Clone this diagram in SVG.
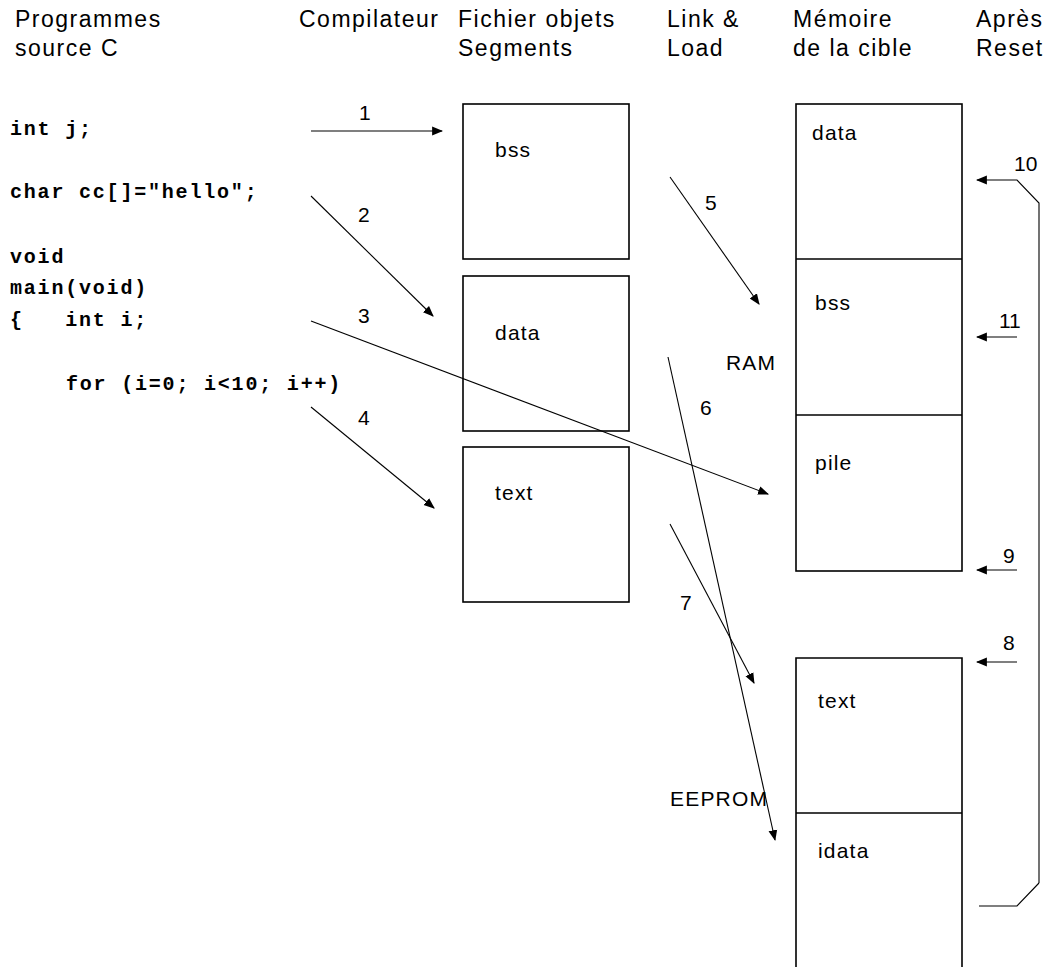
<svg xmlns="http://www.w3.org/2000/svg" width="1047" height="967" viewBox="0 0 1047 967">
<style>
.h{font-family:"Liberation Sans",Arial,sans-serif;font-size:23px;letter-spacing:1.5px;fill:#000}
.lb{font-family:"Liberation Sans",Arial,sans-serif;font-size:21px;letter-spacing:1.2px;fill:#000}
.n{font-family:"Liberation Sans",Arial,sans-serif;font-size:21px;fill:#000}
.c{font-family:"Liberation Mono","Courier New",monospace;font-size:20px;font-weight:bold;letter-spacing:1.8px;fill:#000;white-space:pre}
.box{fill:none;stroke:#000;stroke-width:1.6}
.ln{fill:none;stroke:#000;stroke-width:1.1}
.ar{fill:none;stroke:#000;stroke-width:1.1;marker-end:url(#ah)}
</style>
<defs>
<marker id="ah" viewBox="0 0 10 10" refX="9" refY="5" markerWidth="11" markerHeight="11" markerUnits="userSpaceOnUse" orient="auto">
<path d="M0,1 L10,5 L0,9 Z" fill="#000"/>
</marker>
</defs>
<rect width="1047" height="967" fill="#fff"/>
<g id="headers">
<text class="h" x="15" y="27">Programmes</text>
<text class="h" x="15" y="56">source C</text>
<text class="h" x="299" y="27">Compilateur</text>
<text class="h" x="458" y="27">Fichier objets</text>
<text class="h" x="458" y="56">Segments</text>
<text class="h" x="667" y="27">Link &amp;</text>
<text class="h" x="667" y="56">Load</text>
<text class="h" x="793" y="27">Mémoire</text>
<text class="h" x="793" y="56">de la cible</text>
<text class="h" x="976" y="27">Après</text>
<text class="h" x="976" y="56">Reset</text>
</g>
<g id="source">
<text class="c" x="10" y="135">int j;</text>
<text class="c" x="10" y="198">char cc[]="hello";</text>
<text class="c" x="10" y="263">void</text>
<text class="c" x="10" y="294">main(void)</text>
<text class="c" x="10" y="326">{   int i;</text>
<text class="c" x="66" y="390">for (i=0; i&lt;10; i++)</text>
</g>
<g id="seg-bss">
<rect class="box" x="463" y="104" width="166" height="155"/>
<text class="lb" x="495" y="157">bss</text>
</g>
<g id="seg-data">
<rect class="box" x="463" y="276" width="166" height="155"/>
<text class="lb" x="495" y="340">data</text>
</g>
<g id="seg-text">
<rect class="box" x="463" y="447" width="166" height="155"/>
<text class="lb" x="495" y="500">text</text>
</g>
<g id="ram">
<rect class="box" x="796" y="104" width="166" height="467"/>
<line class="box" x1="796" y1="259" x2="962" y2="259"/>
<line class="box" x1="796" y1="415" x2="962" y2="415"/>
<text class="lb" x="812" y="140">data</text>
<text class="lb" x="815" y="310">bss</text>
<text class="lb" x="815" y="470">pile</text>
<text class="lb" x="726" y="370">RAM</text>
</g>
<g id="eeprom">
<path class="box" d="M796,975 V658 H962 V975 M796,813 H962"/>
<text class="lb" x="818" y="708">text</text>
<text class="lb" x="818" y="858">idata</text>
<text class="lb" x="670" y="806">EEPROM</text>
</g>
<g id="connectors">
<line class="ar" x1="311" y1="131" x2="442" y2="131"/>
<line class="ar" x1="311" y1="196" x2="433" y2="316"/>
<line class="ar" x1="311" y1="321" x2="768" y2="494"/>
<line class="ar" x1="311" y1="407" x2="434" y2="508"/>
<line class="ar" x1="670" y1="177" x2="759" y2="304"/>
<line class="ar" x1="668" y1="357" x2="775" y2="840"/>
<line class="ar" x1="670" y1="524" x2="754" y2="683"/>
<polyline class="ar" points="1039,883 1039,203 1017,180 977,180"/>
<polyline class="ln" points="1039,883 1017,906 979,906"/>
<line class="ar" x1="1017" y1="337" x2="977" y2="337"/>
<line class="ar" x1="1017" y1="570" x2="977" y2="570"/>
<line class="ar" x1="1017" y1="662" x2="977" y2="662"/>
</g>
<g id="labels">
<text class="n" x="359" y="120">1</text>
<text class="n" x="358" y="222">2</text>
<text class="n" x="358" y="323">3</text>
<text class="n" x="358" y="425">4</text>
<text class="n" x="705" y="210">5</text>
<text class="n" x="700" y="415">6</text>
<text class="n" x="680" y="610">7</text>
<text class="n" x="1003" y="650">8</text>
<text class="n" x="1003" y="563">9</text>
<text class="n" x="1014" y="171">10</text>
<text class="n" x="999" y="328">11</text>
</g>
</svg>
